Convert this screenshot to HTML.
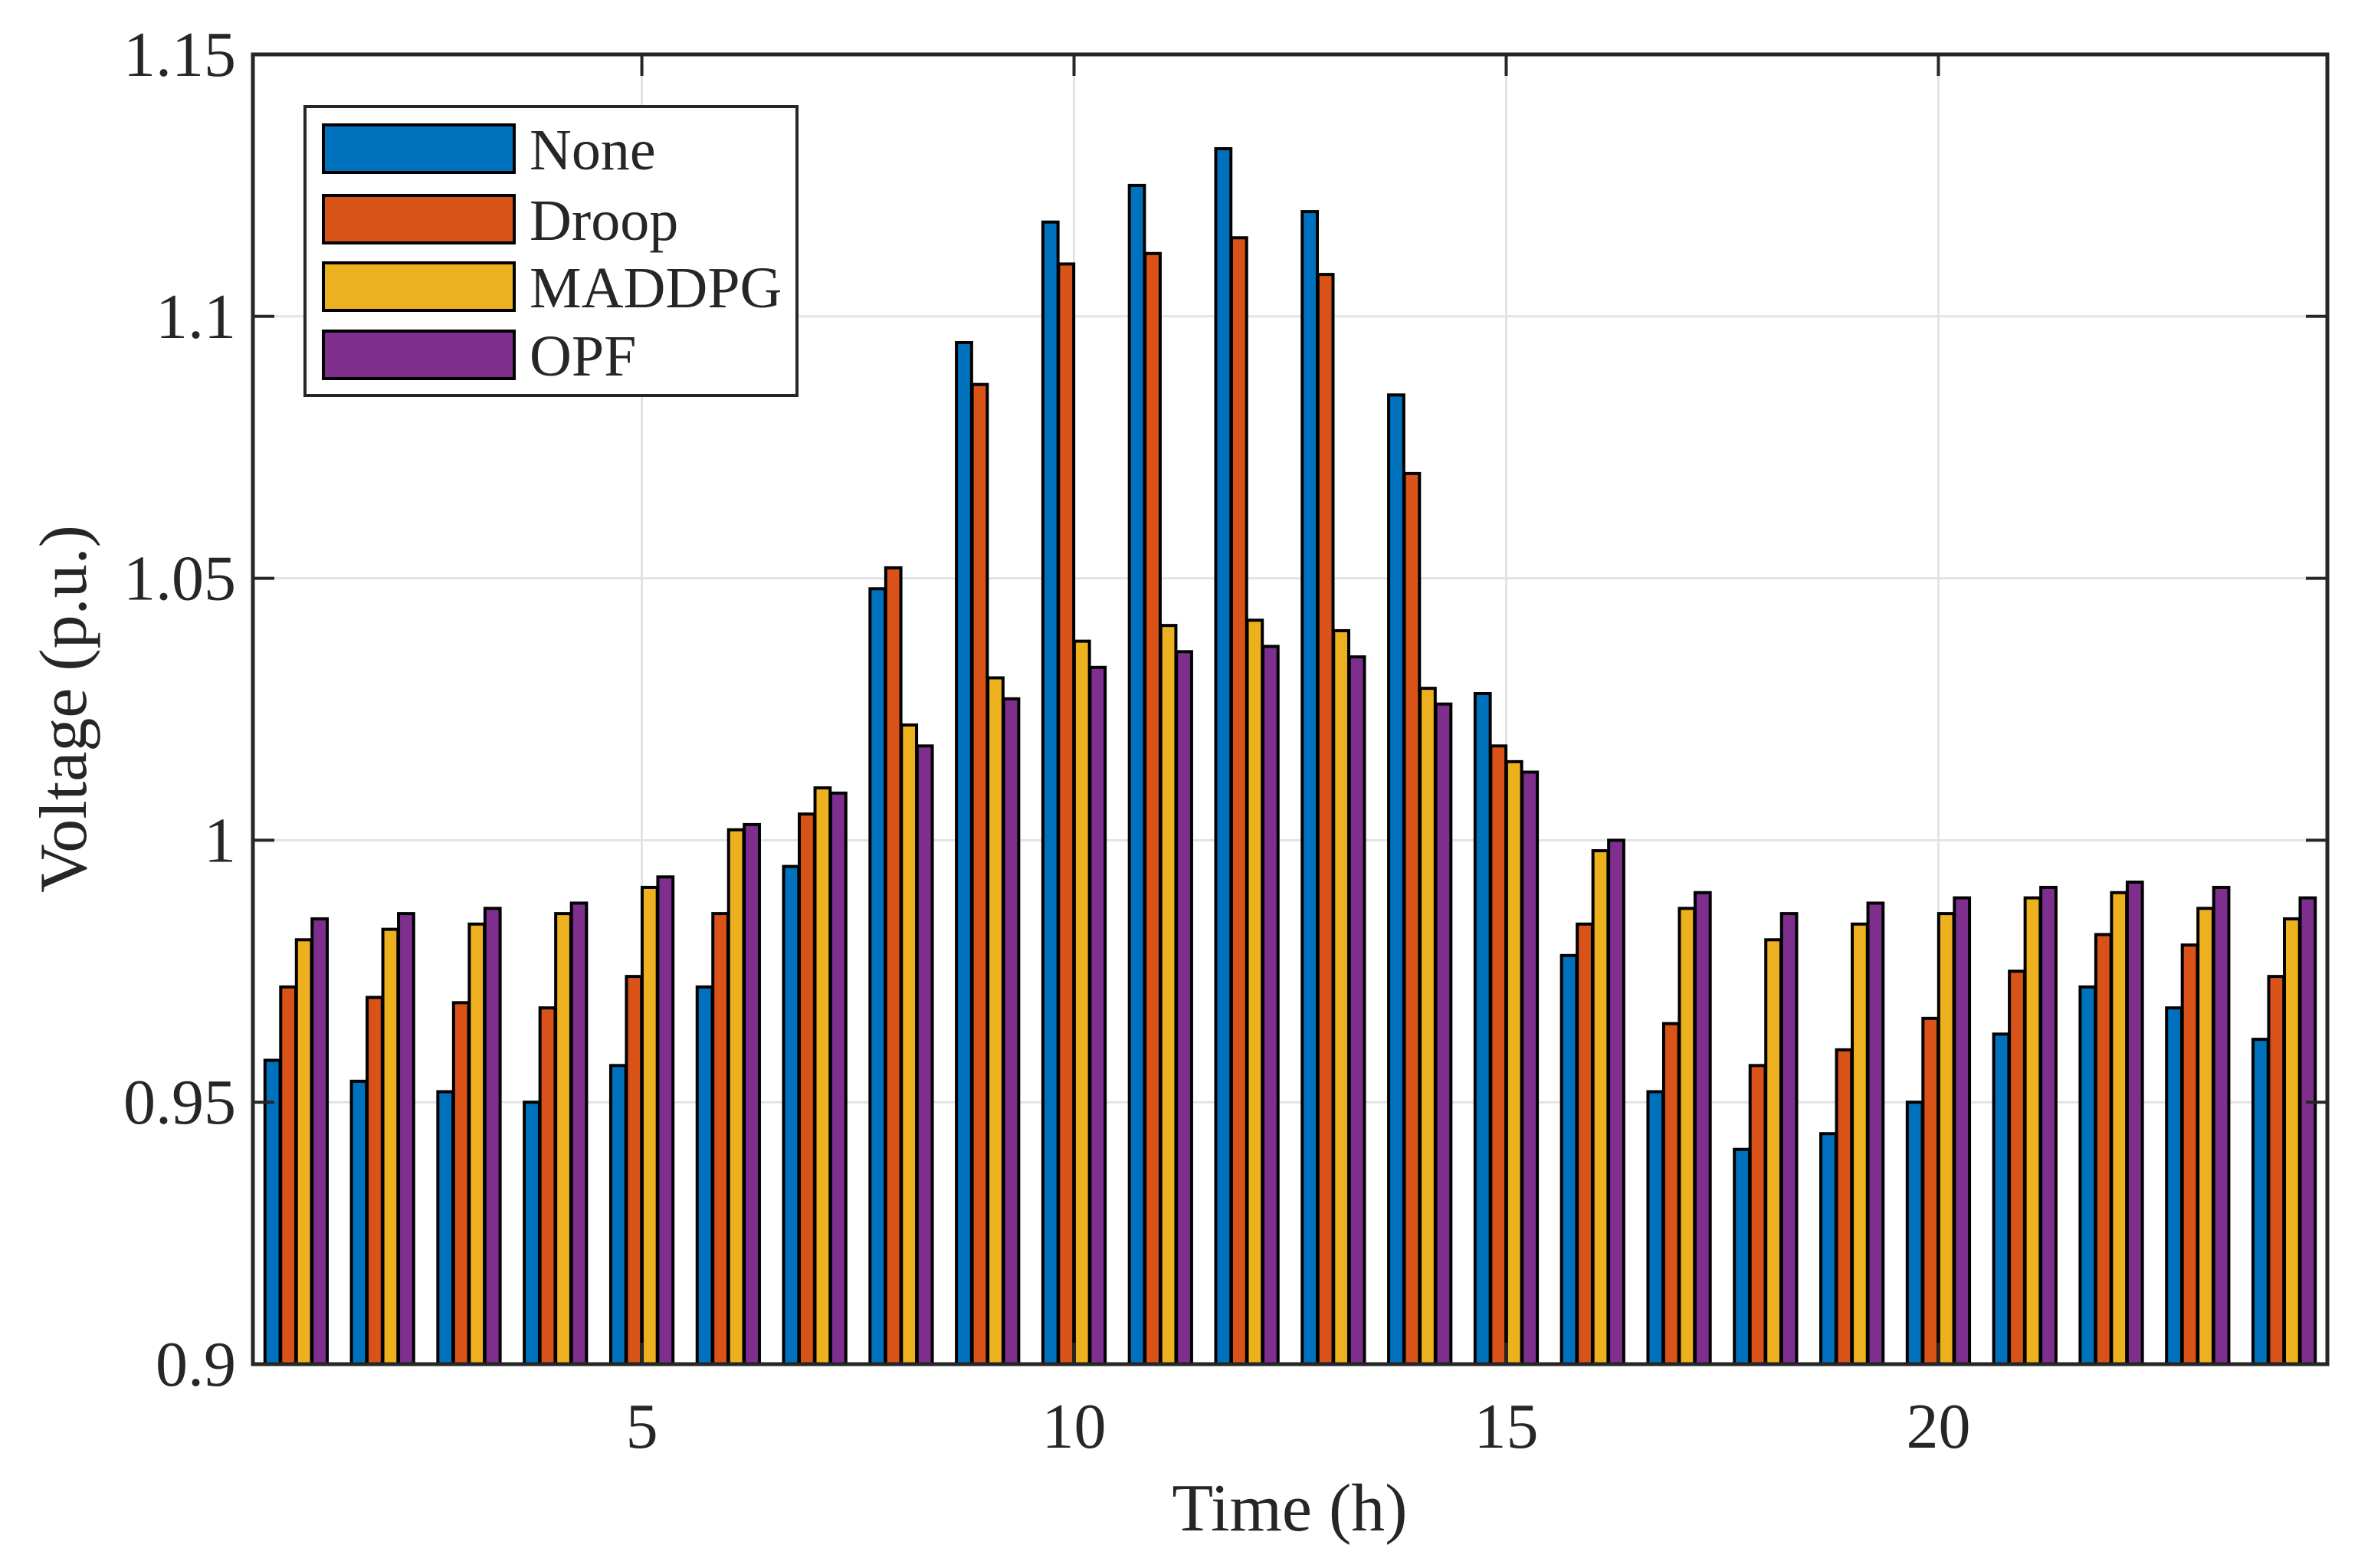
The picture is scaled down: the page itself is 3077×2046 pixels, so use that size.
<!DOCTYPE html>
<html><head><meta charset="utf-8"><style>
html,body{margin:0;padding:0;background:#fff}
svg{display:block}
text{font-family:"Liberation Serif",serif;fill:#262626}
</style></head><body>
<svg id="chart" width="3077" height="2046" viewBox="0 0 3077 2046" xmlns="http://www.w3.org/2000/svg">
<g id="grid"></g>
<g id="bars"></g>
<g id="axes"></g>
<text x="82" y="925" font-size="88" text-anchor="middle" transform="rotate(-90 82 925)" dy="30">Voltage (p.u.)</text>
<text x="1683" y="1997" font-size="88" text-anchor="middle">Time (h)</text>
<g id="legend"></g>
</svg>
<script>
const categories = [1,2,3,4,5,6,7,8,9,10,11,12,13,14,15,16,17,18,19,20,21,22,23,24];
const seriesNames = ["None","Droop","MADDPG","OPF"];
const noneVals = [0.958,0.954,0.952,0.950,0.957,0.972,0.995,1.048,1.095,1.118,1.125,1.132,1.120,1.085,1.028,0.978,0.952,0.941,0.944,0.950,0.963,0.972,0.968,0.962];
const droopVals = [0.972,0.970,0.969,0.968,0.974,0.986,1.005,1.052,1.087,1.110,1.112,1.115,1.108,1.070,1.018,0.984,0.965,0.957,0.960,0.966,0.975,0.982,0.980,0.974];
const maddpgVals = [0.981,0.983,0.984,0.986,0.991,1.002,1.010,1.022,1.031,1.038,1.041,1.042,1.040,1.029,1.015,0.998,0.987,0.981,0.984,0.986,0.989,0.990,0.987,0.985];
const opfVals = [0.985,0.986,0.987,0.988,0.993,1.003,1.009,1.018,1.027,1.033,1.036,1.037,1.035,1.026,1.013,1.000,0.990,0.986,0.988,0.989,0.991,0.992,0.991,0.989];
const colors = ["#0072BD","#D95319","#EDB120","#7E2F8E"];
const yTicks = [0.9,0.95,1,1.05,1.1,1.15];
const yTickLabels = ["0.9","0.95","1","1.05","1.1","1.15"];
const xTicks = [5,10,15,20];
const xTickLabels = ["5","10","15","20"];

const NS="http://www.w3.org/2000/svg";
const L=330,R=3037,T=71,B=1780;
const xMin=0.5,xMax=24.5,yMin=0.9,yMax=1.15;
const xs=v=>L+(v-xMin)/(xMax-xMin)*(R-L);
const ys=v=>B-(v-yMin)/(yMax-yMin)*(B-T);
function mk(tag,attrs,parent){const e=document.createElementNS(NS,tag);for(const k in attrs)e.setAttribute(k,attrs[k]);parent.appendChild(e);return e;}
const grid=document.getElementById('grid'),bars=document.getElementById('bars'),axes=document.getElementById('axes'),legend=document.getElementById('legend');

yTicks.forEach((v,i)=>{
  const y=ys(v);
  if(i>0&&i<yTicks.length-1){const g=mk('line',{x1:L,x2:R,y1:y,y2:y,stroke:'#e3e3e3','stroke-width':3},grid);
  
  }
  const t=mk('text',{x:L-22,y:y+28,'font-size':84,'text-anchor':'end'},axes);t.textContent=yTickLabels[i];
  
  
  mk('line',{x1:L,x2:L+28,y1:y,y2:y,stroke:'#262626','stroke-width':4},axes);
  mk('line',{x1:R,x2:R-28,y1:y,y2:y,stroke:'#262626','stroke-width':4},axes);
});
xTicks.forEach((v,i)=>{
  const x=xs(v);
  const g=mk('line',{x1:x,x2:x,y1:T,y2:B,stroke:'#e3e3e3','stroke-width':3},grid);
  
  
  const t=mk('text',{x:x,y:1889,'font-size':84,'text-anchor':'middle'},axes);t.textContent=xTickLabels[i];
  
  
  mk('line',{x1:x,x2:x,y1:B,y2:B-28,stroke:'#262626','stroke-width':4},axes);
  mk('line',{x1:x,x2:x,y1:T,y2:T+28,stroke:'#262626','stroke-width':4},axes);
});

const series=[noneVals,droopVals,maddpgVals,opfVals];
const gw=0.727,step=gw/4,bw=0.175;
series.forEach((vals,s)=>{
  vals.forEach((v,i)=>{
    const c=categories[i]-gw/2+step*(s+0.5);
    const x0=xs(c-bw/2),x1=xs(c+bw/2),y=ys(v);
    const r=mk('rect',{x:x0,y:y,width:x1-x0,height:B-y,fill:colors[s],stroke:'#000','stroke-width':4},bars);
    
    
  });
});

const box=mk('rect',{x:L,y:T,width:R-L,height:B-T,fill:'none',stroke:'#262626','stroke-width':5},axes);



const lb=mk('rect',{x:398,y:139,width:642,height:377,fill:'#fff',stroke:'#262626','stroke-width':4},legend);


const rowsY=[194,286,374,463];
seriesNames.forEach((n,i)=>{
  const g=mk('g',{},legend);
  
  
  mk('rect',{x:422,y:rowsY[i]-31,width:249,height:62,fill:colors[i],stroke:'#000','stroke-width':4},g);
  const t=mk('text',{x:691,y:rowsY[i]+27,'font-size':76},g);t.textContent=n;
});
</script>
</body></html>
